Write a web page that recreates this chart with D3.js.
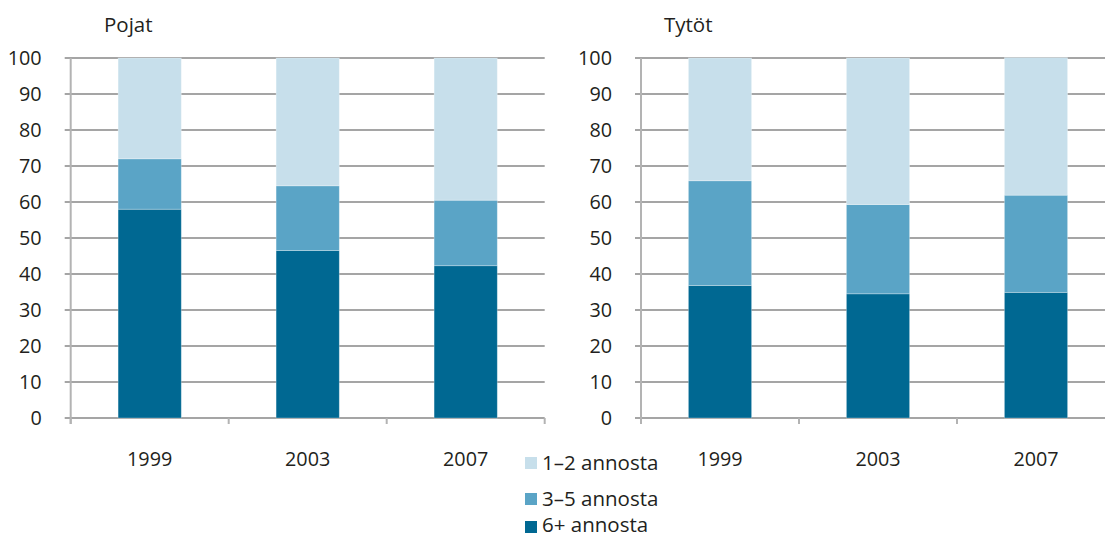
<!DOCTYPE html>
<html>
<head>
<meta charset="utf-8">
<script src="https://cdn.jsdelivr.net/npm/d3@7"></script>
<style>
  body { margin: 0; background: #fff; }
  text { font-family: "Open Sans", "Noto Sans", sans-serif; fill: #231f20; }
</style>
</head>
<body>
<script>
// data
const years = ["1999", "2003", "2007"];
const seriesKeys = ["6+ annosta", "3–5 annosta", "1–2 annosta"];
const pojat6 = [58, 46.5, 42.3];
const pojat35 = [14, 18, 18.2];
const pojat12 = [28, 35.5, 39.5];
const tytot6 = [36.8, 34.5, 34.9];
const tytot35 = [29.1, 24.8, 27.0];
const tytot12 = [34.1, 40.7, 38.2];
const yTicks = [0, 10, 20, 30, 40, 50, 60, 70, 80, 90, 100];
const legendOrder = ["1–2 annosta", "3–5 annosta", "6+ annosta"];

const colors = {
  "6+ annosta": "#006892",
  "3–5 annosta": "#5aa4c6",
  "1–2 annosta": "#c7dfeb"
};

const W = 1105, H = 534;
const svg = d3.select("body").append("svg")
  .attr("width", W)
  .attr("height", H);

const y = d3.scaleLinear().domain([0, 100]).range([418, 58]);

function rows(a, b, c) {
  return years.map((yr, i) => ({
    year: yr,
    "6+ annosta": a[i],
    "3–5 annosta": b[i],
    "1–2 annosta": c[i]
  }));
}

const panels = [
  {title: "Pojat", x0: 70.7, titleX: 104, data: rows(pojat6, pojat35, pojat12)},
  {title: "Tytöt", x0: 641, titleX: 664, data: rows(tytot6, tytot35, tytot12)}
];

const stack = d3.stack().keys(seriesKeys);

panels.forEach(p => {
  const x = d3.scaleBand()
    .domain(years)
    .range([p.x0, p.x0 + 3 * 158])
    .paddingInner(0.6)
    .paddingOuter(0.3);

  const g = svg.append("g");
  const xEnd = p.x0 + 3 * 158;

  // gridlines
  g.selectAll(".grid")
    .data(yTicks)
    .enter().append("line")
    .attr("x1", p.x0 - 6)
    .attr("x2", xEnd)
    .attr("y1", d => y(d))
    .attr("y2", d => y(d))
    .attr("stroke", "#a5a5a5")
    .attr("stroke-width", 2);

  // y labels
  g.selectAll(".ylab")
    .data(yTicks)
    .enter().append("text")
    .attr("x", p.x0 - 29)
    .attr("y", d => y(d))
    .attr("dy", "0.36em")
    .attr("text-anchor", "end")
    .style("font-size", "19.8px")
    .text(d => d);

  // bars
  const layers = stack(p.data);
  g.selectAll(".layer")
    .data(layers)
    .enter().append("g")
    .attr("fill", d => colors[d.key])
    .selectAll("rect")
    .data(d => d)
    .enter().append("rect")
    .attr("x", d => x(d.data.year))
    .attr("width", x.bandwidth())
    .attr("y", d => y(d[1]))
    .attr("height", d => y(d[0]) - y(d[1]))
    .attr("stroke", "#ffffff")
    .attr("stroke-opacity", 0.35)
    .attr("stroke-width", 0.8);

  // y axis line
  g.append("line")
    .attr("x1", p.x0).attr("x2", p.x0)
    .attr("y1", y(100)).attr("y2", y(0) + 6)
    .attr("stroke", "#b3b3b3")
    .attr("stroke-width", 2);

  // x axis ticks at band boundaries
  const bounds = [0, 1, 2, 3].map(i => p.x0 + i * x.step());
  g.selectAll(".xtick")
    .data(bounds)
    .enter().append("line")
    .attr("x1", d => d).attr("x2", d => d)
    .attr("y1", y(0)).attr("y2", y(0) + 6)
    .attr("stroke", "#b3b3b3")
    .attr("stroke-width", 2);

  // x labels
  g.selectAll(".xlab")
    .data(years)
    .enter().append("text")
    .attr("x", d => x(d) + x.bandwidth() / 2)
    .attr("y", 466)
    .attr("text-anchor", "middle")
    .style("font-size", "19.8px")
    .text(d => d);

  // panel title
  g.append("text")
    .attr("x", p.titleX)
    .attr("y", 32)
    .style("font-size", "20.5px")
    .text(p.title);
});

// legend
const legendY = [457, 493, 521];
const legend = svg.selectAll(".legend")
  .data(legendOrder)
  .enter().append("g")
  .attr("transform", (d, i) => `translate(525,${legendY[i]})`);

legend.append("rect")
  .attr("width", 12)
  .attr("height", 12)
  .attr("fill", d => colors[d]);

legend.append("text")
  .attr("x", 17)
  .attr("y", (d, i) => i === 2 ? 10.5 : 12.5)
  .style("font-size", "20.5px")
  .text(d => d);
</script>
</body>
</html>
